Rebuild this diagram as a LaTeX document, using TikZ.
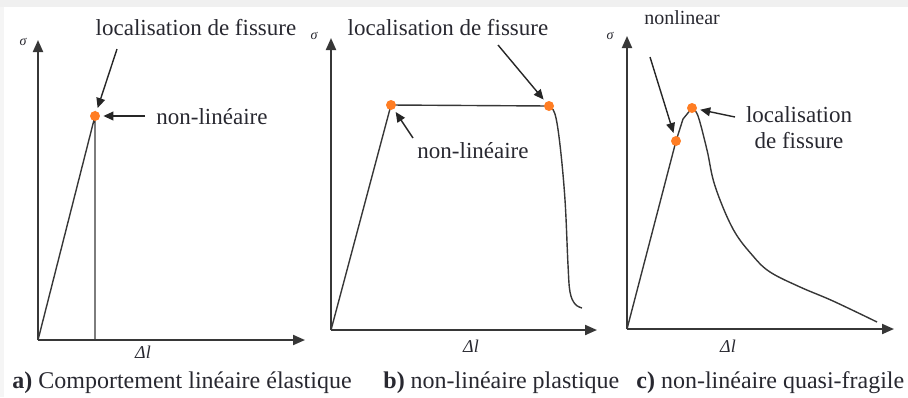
\documentclass[tikz,border=0pt]{standalone}
\usepackage{fontspec}
\setmainfont{Liberation Serif}
\newfontfamily\serifli{Liberation Serif}
\usetikzlibrary{arrows.meta}

\definecolor{pointorange}{RGB}{255,125,35}
\definecolor{traitgris}{RGB}{55,55,55}
\definecolor{texte}{RGB}{40,40,48}

\begin{document}
\begin{tikzpicture}[x=0.5pt,y=-0.5pt,
    axe/.style={traitgris, line width=1pt, -{Triangle[length=6pt,width=5pt]}},
    courbe/.style={traitgris, line width=0.7pt},
    fleche/.style={black!85, line width=0.7pt, -{Triangle[length=5pt,width=4.4pt]}, shorten >=1.5pt},
    pt/.style={circle, fill=pointorange, inner sep=0pt, minimum size=5pt},
    lbl/.style={texte, font=\serifli\fontsize{11.5}{13}\selectfont, inner sep=1pt},
    sig/.style={texte, font=\serifli\fontsize{7}{8}\selectfont\itshape, inner sep=0pt},
    delta/.style={texte, font=\serifli\fontsize{9}{10}\selectfont\itshape, inner sep=0pt},
    legende/.style={texte, font=\serifli\fontsize{12}{14}\selectfont, inner sep=0pt, anchor=west}]

    \useasboundingbox (0,0) rectangle (908,397);

    % bord gris de la capture
    \fill[gray!12] (0,0) rectangle (908,7);
    \fill[gray!8] (0,7) rectangle (4,397);

    % ---------- a) lineaire elastique ----------
    \coordinate (oa) at (38,340);
    \coordinate (ya) at (38,40);
    \coordinate (xa) at (305,340);
    \draw[axe] (oa) -- (ya);
    \draw[axe] (oa) -- (xa);

    % courbe
    \draw[courbe] (oa) -- (95,116) -- (95,340);
    \node[pt] (da) at (95,116) {};

    \node[sig] (siga) at (23,42) {σ};
    \node[delta] (dla) at (143,352) {Δl};

    \node[lbl] (loca) at (196,28) {localisation de fissure};
    \coordinate (loca-q) at (117,49);
    \draw[fleche] (loca-q) -- (da);

    \node[lbl] (nla) at (212,117) {non-linéaire};
    \coordinate (nla-q) at (145,116);
    \draw[fleche] (nla-q) -- (da);

    % ---------- b) non-lineaire plastique ----------
    \coordinate (ob) at (331,330);
    \coordinate (yb) at (331,38);
    \coordinate (xb) at (597,330);
    \draw[axe] (ob) -- (yb);
    \draw[axe] (ob) -- (xb);

    % courbe
    \draw[courbe] (ob) -- (391,105) -- (549,106);
    \draw[courbe] plot[smooth, tension=0.6] coordinates
        {(549,106) (555,114) (560,145) (565,200) (568,265) (570,292) (575,304) (582,308)};
    \node[pt] (db1) at (391,105) {};
    \node[pt] (db2) at (549,106) {};

    \node[sig] (sigb) at (314,36) {σ};
    \node[delta] (dlb) at (471,346) {Δl};

    \node[lbl] (locb) at (448,28) {localisation de fissure};
    \coordinate (locb-q) at (498,45);
    \draw[fleche] (locb-q) -- (db2);

    \node[lbl] (nlb) at (473,151) {non-linéaire};
    \coordinate (nlb-q) at (413,138);
    \draw[fleche] (nlb-q) -- (db1);

    % ---------- c) non-lineaire quasi-fragile ----------
    \coordinate (oc) at (627,329);
    \coordinate (yc) at (627,36);
    \coordinate (xc) at (894,329);
    \draw[axe] (oc) -- (yc);
    \draw[axe] (oc) -- (xc);

    % courbe
    \draw[courbe] (oc) -- (676,141) -- (683,119) -- (692,108);
    \draw[courbe] plot[smooth, tension=0.6] coordinates
        {(692,108) (698,116) (707,150) (715,186) (733,229) (753,256) (770,272) (800,287) (833,301) (877,322)};
    \node[pt] (dc1) at (676,141) {};
    \node[pt] (dc2) at (692,108) {};

    \node[sig] (sigc) at (610,36) {σ};
    \node[delta] (dlc) at (728,346) {Δl};

    \node[texte, font=\serifli\fontsize{10}{11}\selectfont, inner sep=1pt] (nlc) at (682,18) {nonlinear};
    \coordinate (nlc-q) at (650,57);
    \draw[fleche] (nlc-q) -- (dc1);

    \node[lbl, align=center] (locc) at (799,128) {localisation\\de fissure};
    \coordinate (locc-q) at (735,117);
    \draw[fleche] (locc-q) -- (dc2);

    % legendes
    \node[legende] (capa) at (12,383) {\textbf{a)} Comportement linéaire élastique};
    \node[legende] (capb) at (383,383) {\textbf{b)} non-linéaire plastique};
    \node[legende] (capc) at (636,383) {\textbf{c)} non-linéaire quasi-fragile};

\end{tikzpicture}
\end{document}
